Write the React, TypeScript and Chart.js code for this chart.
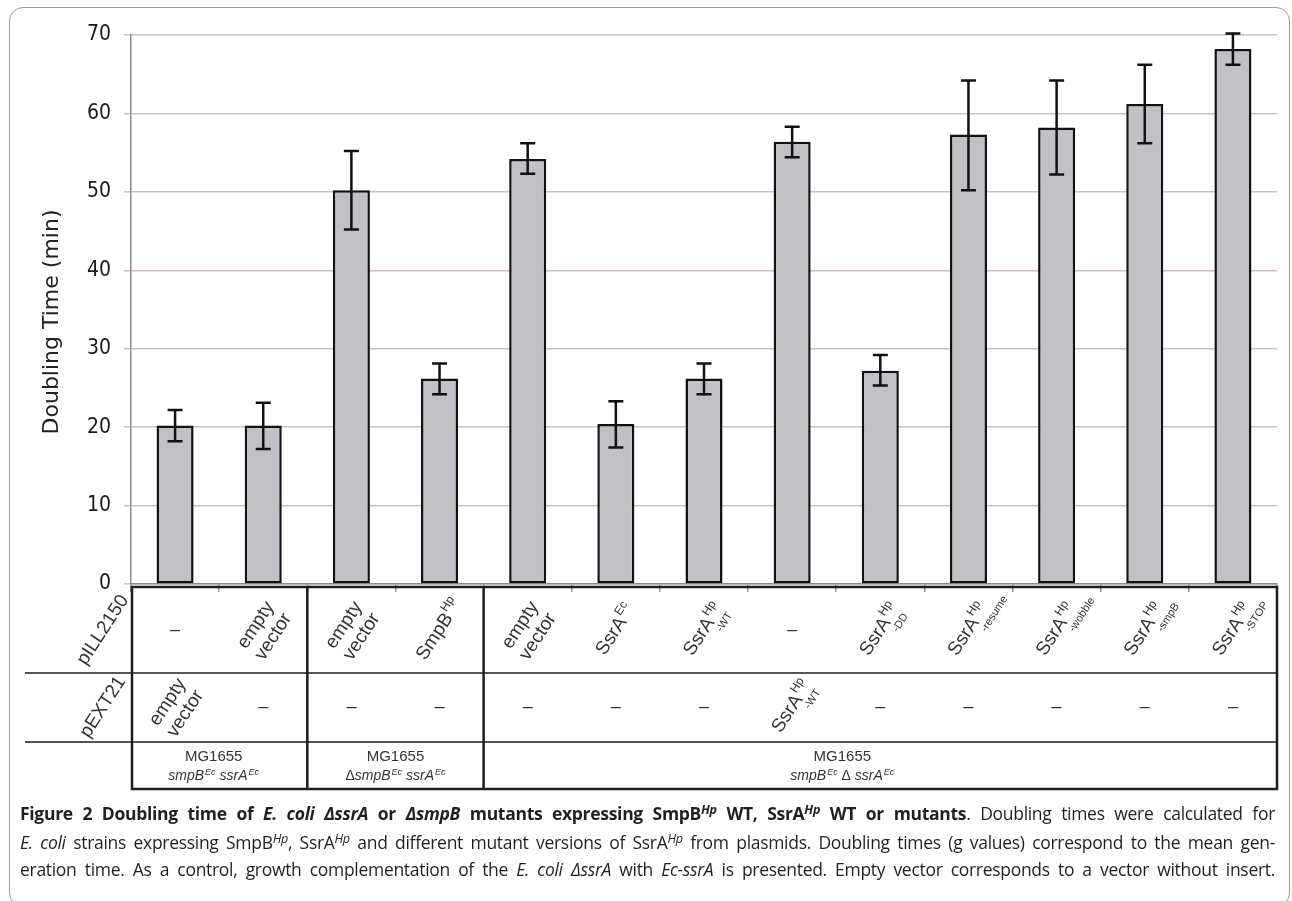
import React, { useEffect, useRef } from "react";
import { Chart, registerables } from "chart.js";

Chart.register(...registerables);

// ---------------- data ----------------
const categories = [
  "1", "2", "3", "4", "5", "6", "7", "8", "9", "10", "11", "12", "13",
];
const doublingTime = [20.2, 20.2, 50.2, 26.2, 54.2, 20.4, 26.2, 56.4, 27.2, 57.3, 58.2, 61.2, 68.2];
const errorLow = [18.2, 17.2, 45.2, 24.2, 52.3, 17.4, 24.2, 54.4, 25.3, 50.2, 52.2, 56.2, 66.2];
const errorHigh = [22.2, 23.1, 55.2, 28.1, 56.2, 23.3, 28.1, 58.3, 29.2, 64.2, 64.2, 66.2, 70.2];
const yTicks = [0, 10, 20, 30, 40, 50, 60, 70];
const yTitle = "Doubling Time (min)";

const rowLabels = ["pILL2150", "pEXT21"];
const pILL2150Base = ["–", "empty\nvector", "empty\nvector", "SmpB", "empty\nvector", "SsrA", "SsrA", "–", "SsrA", "SsrA", "SsrA", "SsrA", "SsrA"];
const pILL2150Sup = ["", "", "", "Hp", "", "Ec", "Hp", "", "Hp", "Hp", "Hp", "Hp", "Hp"];
const pILL2150Sub = ["", "", "", "", "", "", "-WT", "", "-DD", "-resume", "-wobble", "-smpB", "-STOP"];
const pEXT21Base = ["empty\nvector", "–", "–", "–", "–", "–", "–", "SsrA", "–", "–", "–", "–", "–"];
const pEXT21Sup = ["", "", "", "", "", "", "", "Hp", "", "", "", "", ""];
const pEXT21Sub = ["", "", "", "", "", "", "", "-WT", "", "", "", "", ""];

const strainStart = [0, 2, 4];
const strainEnd = [1, 3, 12];
const strainName = ["MG1655", "MG1655", "MG1655"];
// segments: [text, style] style: i = italic, s = superscript, n = normal
const strainGenotype: [string, string][][] = [
  [["smpB", "i"], ["Ec", "s"], [" ssrA", "i"], ["Ec", "s"]],
  [["Δ", "n"], ["smpB", "i"], ["Ec", "s"], [" ssrA", "i"], ["Ec", "s"]],
  [["smpB", "i"], ["Ec", "s"], [" Δ ", "n"], ["ssrA", "i"], ["Ec", "s"]],
];

// ---------------- styles ----------------
const AXIS_FONT = "'DejaVu Sans Condensed', 'DejaVu Sans', sans-serif";
const TITLE_FONT = "'DejaVu Sans', sans-serif";
const TABLE_FONT = "'Liberation Sans', Arial, sans-serif";
const ROT = (57 * Math.PI) / 180;
const ROW1_TOP = 587;
const ROW2_TOP = 673;
const ROW3_TOP = 742;
const TABLE_BOTTOM = 789;
const ROW1_MID = 630;
const ROW2_MID = 707;
const strainShift = [-6, 0, -38];

function drawCell(ctx: CanvasRenderingContext2D, cx: number, cy: number, base: string, sup: string, sub: string) {
  ctx.save();
  ctx.fillStyle = "#333";
  ctx.translate(cx, cy);
  if (base === "–") {
    ctx.font = `18px ${TABLE_FONT}`;
    ctx.textAlign = "center";
    ctx.textBaseline = "middle";
    ctx.fillText(base, 0, 0);
    ctx.restore();
    return;
  }
  ctx.rotate(-ROT);
  ctx.textBaseline = "alphabetic";
  const lines = base.split("\n");
  if (lines.length > 1) {
    ctx.font = `19px ${TABLE_FONT}`;
    ctx.textAlign = "center";
    const lh = 21;
    lines.forEach((ln, k) => ctx.fillText(ln, 0, (k - (lines.length - 1) / 2) * lh + 7));
  } else {
    ctx.font = `19px ${TABLE_FONT}`;
    const wB = ctx.measureText(base).width;
    ctx.font = `12px ${TABLE_FONT}`;
    const wS = sup ? ctx.measureText(sup).width : 0;
    const W = wB + wS + 1;
    const x0 = -W / 2;
    ctx.textAlign = "left";
    ctx.font = `19px ${TABLE_FONT}`;
    ctx.fillText(base, x0, 5);
    if (sup) {
      ctx.font = `12px ${TABLE_FONT}`;
      ctx.fillText(sup, x0 + wB + 1, -4);
    }
    if (sub) {
      ctx.font = `11px ${TABLE_FONT}`;
      ctx.fillText(sub, x0 + wB - 5, 16);
    }
  }
  ctx.restore();
}

function drawGenotype(ctx: CanvasRenderingContext2D, cx: number, y: number, segs: [string, string][]) {
  const fontFor = (st: string) =>
    st === "i" ? `italic 14px ${TABLE_FONT}` : st === "s" ? `italic 9px ${TABLE_FONT}` : `14px ${TABLE_FONT}`;
  let total = 0;
  segs.forEach(([t, st]) => {
    ctx.font = fontFor(st);
    total += ctx.measureText(t).width + (st === "s" ? 1 : 0);
  });
  let x = cx - total / 2;
  ctx.textAlign = "left";
  ctx.textBaseline = "alphabetic";
  segs.forEach(([t, st]) => {
    ctx.font = fontFor(st);
    const dy = st === "s" ? -5 : 0;
    ctx.fillText(t, x + (st === "s" ? 1 : 0), y + dy);
    x += ctx.measureText(t).width + (st === "s" ? 1 : 0);
  });
}

const errorBarPlugin = {
  id: "errorBars",
  afterDatasetsDraw(chart: any) {
    const ctx = chart.ctx as CanvasRenderingContext2D;
    const y = chart.scales.y;
    const meta = chart.getDatasetMeta(0);
    ctx.save();
    ctx.strokeStyle = "#111";
    ctx.lineWidth = 2.5;
    meta.data.forEach((bar: any, i: number) => {
      const x = bar.x;
      const yl = y.getPixelForValue(errorLow[i]);
      const yh = y.getPixelForValue(errorHigh[i]);
      const cap = 7.5;
      ctx.beginPath();
      ctx.moveTo(x, yl);
      ctx.lineTo(x, yh);
      ctx.moveTo(x - cap, yl);
      ctx.lineTo(x + cap, yl);
      ctx.moveTo(x - cap, yh);
      ctx.lineTo(x + cap, yh);
      ctx.stroke();
    });
    ctx.restore();
  },
};

const tablePlugin = {
  id: "strainTable",
  afterDraw(chart: any) {
    const ctx = chart.ctx as CanvasRenderingContext2D;
    const xs = chart.scales.x;
    const ca = chart.chartArea;
    const px = (v: number) => xs.getPixelForValue(v);
    const left = ca.left + 1;
    const right = px(categories.length - 0.5);
    ctx.save();

    // y axis title
    ctx.save();
    ctx.translate(52, 322);
    ctx.rotate(-Math.PI / 2);
    ctx.font = `22px ${TITLE_FONT}`;
    ctx.fillStyle = "#222";
    ctx.textAlign = "center";
    ctx.textBaseline = "middle";
    ctx.fillText(yTitle, 0, 0);
    ctx.restore();

    // inner horizontal rules
    ctx.strokeStyle = "#555";
    ctx.lineWidth = 2;
    ctx.beginPath();
    ctx.moveTo(25, ROW2_TOP);
    ctx.lineTo(right, ROW2_TOP);
    ctx.moveTo(25, ROW3_TOP);
    ctx.lineTo(right, ROW3_TOP);
    ctx.stroke();

    // outer frame and group dividers
    ctx.strokeStyle = "#1e1e1e";
    ctx.lineWidth = 2.5;
    ctx.beginPath();
    ctx.moveTo(left, ROW1_TOP);
    ctx.lineTo(right, ROW1_TOP);
    ctx.lineTo(right, TABLE_BOTTOM);
    ctx.lineTo(left, TABLE_BOTTOM);
    ctx.closePath();
    strainStart.forEach((s, k) => {
      if (k === 0) return;
      const bx = px(s - 0.5);
      ctx.moveTo(bx, ROW1_TOP);
      ctx.lineTo(bx, TABLE_BOTTOM);
    });
    ctx.stroke();

    // row labels
    ctx.fillStyle = "#333";
    [ROW1_MID, ROW2_MID].forEach((ym, k) => {
      ctx.save();
      ctx.translate(103, ym);
      ctx.rotate(-ROT);
      ctx.font = `19px ${TABLE_FONT}`;
      ctx.textAlign = "center";
      ctx.textBaseline = "middle";
      ctx.fillText(rowLabels[k], 0, 0);
      ctx.restore();
    });

    // cells
    categories.forEach((_, i) => {
      const cx = px(i);
      drawCell(ctx, cx, ROW1_MID, pILL2150Base[i], pILL2150Sup[i], pILL2150Sub[i]);
      drawCell(ctx, cx, ROW2_MID, pEXT21Base[i], pEXT21Sup[i], pEXT21Sub[i]);
    });

    // strains
    ctx.fillStyle = "#333";
    strainStart.forEach((s, k) => {
      const x0 = k === 0 ? left : px(s - 0.5);
      const x1 = px(strainEnd[k] + 0.5);
      const cx = (x0 + x1) / 2 + strainShift[k];
      ctx.font = `15px ${TABLE_FONT}`;
      ctx.textAlign = "center";
      ctx.textBaseline = "alphabetic";
      ctx.fillText(strainName[k], cx, 761);
      drawGenotype(ctx, cx, 780, strainGenotype[k]);
    });

    ctx.restore();
  },
};

function ChartCanvas() {
  const ref = useRef<HTMLCanvasElement | null>(null);
  useEffect(() => {
    if (!ref.current) return;
    const chart = new Chart(ref.current, {
      type: "bar",
      data: {
        labels: categories,
        datasets: [
          {
            data: doublingTime,
            backgroundColor: "#c1c1c5",
            borderColor: "#111",
            borderWidth: 2.5,
            borderSkipped: false,
            barPercentage: 0.42,
            categoryPercentage: 1,
          },
        ],
      },
      options: {
        animation: false,
        responsive: false,
        devicePixelRatio: 1,
        layout: { padding: { left: 0, right: 15, top: 35, bottom: 206 } },
        plugins: { legend: { display: false }, tooltip: { enabled: false } },
        scales: {
          x: {
            grid: { offset: true, drawOnChartArea: false, drawTicks: true, tickLength: 8, color: "#999", lineWidth: 1.5 },
            border: { display: true, color: "#8c8c8c", width: 1.5 },
            ticks: { display: false },
            afterFit: (s: any) => {
              s.height = 10;
            },
          },
          y: {
            min: yTicks[0],
            max: yTicks[yTicks.length - 1],
            afterBuildTicks: (s: any) => {
              s.ticks = yTicks.map((v) => ({ value: v }));
            },
            ticks: { font: { family: AXIS_FONT, size: 21 }, color: "#1a1a1a", padding: 13 },
            grid: { color: "#cdbfbf", lineWidth: 1.5, tickLength: 7 },
            border: { color: "#8c8c8c", width: 1.5 },
            afterFit: (s: any) => {
              s.width = 131;
            },
          },
        },
      } as any,
      plugins: [errorBarPlugin, tablePlugin],
    });
    return () => chart.destroy();
  }, []);
  return <canvas ref={ref} width={1292} height={800} style={{ position: "absolute", left: 0, top: 0, width: 1292, height: 800 }} />;
}

const HpSup = () => (
  <sup style={{ fontSize: "0.72em", verticalAlign: "0.45em", lineHeight: 0, fontStyle: "italic" }}>Hp</sup>
);

const lineStyle: React.CSSProperties = {
  position: "absolute",
  left: 20,
  width: 1255,
  height: 28,
  lineHeight: "28px",
  textAlign: "justify",
  textAlignLast: "justify" as any,
  fontFamily: "'Open Sans', 'Noto Sans', sans-serif",
  fontSize: 17.5,
  letterSpacing: "-0.3px",
  color: "#231f20",
  overflow: "visible",
};

export default function App() {
  useEffect(() => {
    document.body.style.margin = "0";
    document.body.style.overflow = "hidden";
    document.body.style.background = "#fff";
  }, []);
  return (
    <div style={{ position: "relative", width: 1292, height: 901, overflow: "hidden", background: "#fff" }}>
      <div
        style={{
          position: "absolute",
          left: 9,
          top: 7,
          width: 1281,
          height: 900,
          border: "1.5px solid #9a9a9a",
          borderRadius: 14,
          boxSizing: "border-box",
        }}
      />
      <ChartCanvas />
      <div style={{ ...lineStyle, top: 799 }}>
        <b>
          Figure 2 Doubling time of <i>E. coli ΔssrA</i> or <i>ΔsmpB</i> mutants expressing SmpB<HpSup /> WT, SsrA<HpSup /> WT
          or mutants
        </b>
        . Doubling times were calculated for
      </div>
      <div style={{ ...lineStyle, top: 828 }}>
        <i>E. coli</i> strains expressing SmpB<HpSup />, SsrA<HpSup /> and different mutant versions of SsrA<HpSup /> from
        plasmids. Doubling times (g values) correspond to the mean gen-
      </div>
      <div style={{ ...lineStyle, top: 855 }}>
        eration time. As a control, growth complementation of the <i>E. coli ΔssrA</i> with <i>Ec-ssrA</i> is presented. Empty
        vector corresponds to a vector without insert.
      </div>
    </div>
  );
}
